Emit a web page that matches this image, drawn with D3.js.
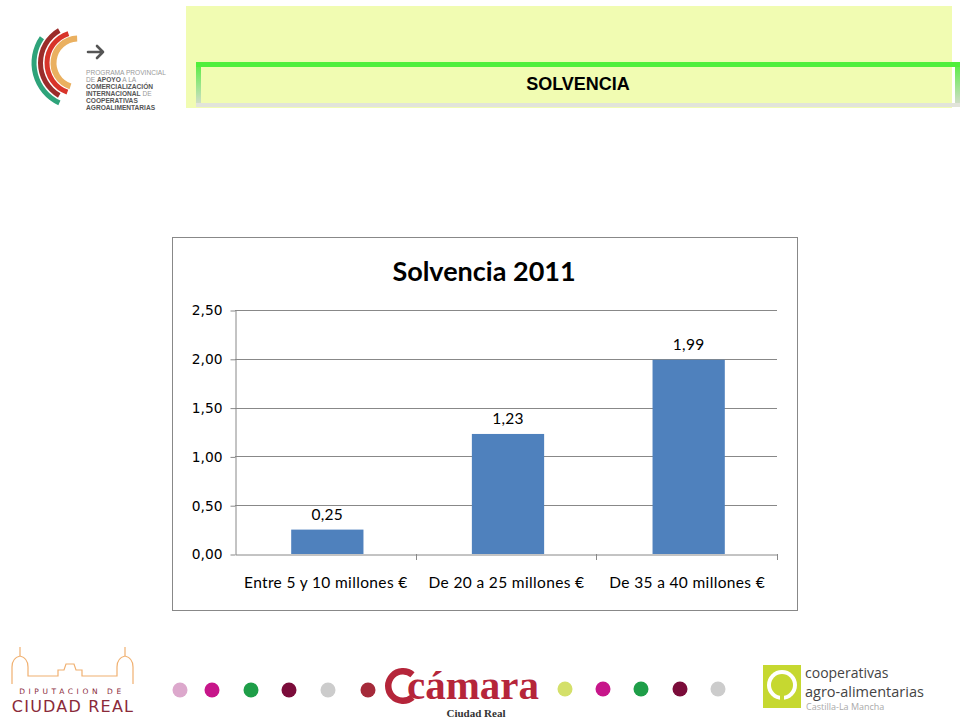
<!DOCTYPE html>
<html>
<head>
<meta charset="utf-8">
<script src="https://cdn.jsdelivr.net/npm/d3@7"></script>
<style>
html,body{margin:0;padding:0;background:#fff;}
svg{display:block;}
</style>
</head>
<body>
<svg id="chart" width="960" height="720"></svg>
<script>
const categories = ["Entre 5 y 10 millones €", "De 20 a 25 millones €", "De 35 a 40 millones €"];
const values = [0.25, 1.23, 1.99];
const yTicks = [0, 0.5, 1.0, 1.5, 2.0, 2.5];
const chartTitle = "Solvencia 2011";
const slideTitle = "SOLVENCIA";
const dotsLeft = ["#dca8cc", "#c7168a", "#1e9e48", "#7b0c3a", "#cccccc", "#a52a3a"];
const dotsRight = ["#d4e06a", "#c7168a", "#1e9e48", "#7b0c3a", "#cccccc"];

const svg = d3.select("#chart");
const defs = svg.append("defs");

// ---------- Header ----------
svg.append("rect").attr("x",186).attr("y",6).attr("width",766).attr("height",102).attr("fill","#f1fcb2");
const lg = defs.append("linearGradient").attr("id","sideGrad").attr("x1",0).attr("y1",0).attr("x2",0).attr("y2",1);
lg.append("stop").attr("offset","0%").attr("stop-color","#52ee3c");
lg.append("stop").attr("offset","100%").attr("stop-color","#dcdcd4");
svg.append("rect").attr("x",196).attr("y",62).attr("width",5).attr("height",45).attr("fill","url(#sideGrad)");
svg.append("rect").attr("x",955).attr("y",62).attr("width",5).attr("height",45).attr("fill","url(#sideGrad)");
svg.append("rect").attr("x",196).attr("y",103).attr("width",764).attr("height",4).attr("fill","#e2e4da");
svg.append("rect").attr("x",196).attr("y",62).attr("width",764).attr("height",5).attr("fill","#50ef3c");
svg.append("text").attr("x",578).attr("y",90).attr("text-anchor","middle")
  .attr("font-family","Liberation Sans, Arial, sans-serif").attr("font-weight","bold").attr("font-size",18)
  .attr("fill","#000").text(slideTitle);

// ---------- Top-left logo ----------
const logo = svg.append("g");
const arcGen = d3.arc();
const arcs = [
  {r:44, w:5, c:"#2ea37a", a0:-55, a1:-155},
  {r:37.5, w:5, c:"#9b2c2a", a0:-30, a1:-150},
  {r:31, w:5, c:"#d8342a", a0:-18, a1:-160},
  {r:24.5, w:6, c:"#eab060", a0:-2, a1:-162}
];
arcs.forEach(a=>{
  logo.append("path")
    .attr("transform","translate(78,63)")
    .attr("d", arcGen({innerRadius:a.r-a.w/2, outerRadius:a.r+a.w/2,
      startAngle:a.a1*Math.PI/180, endAngle:a.a0*Math.PI/180}))
    .attr("fill",a.c);
});
logo.append("path").attr("d","M88,52 L103,52 M97,46 L103,52 L97,58")
  .attr("fill","none").attr("stroke","#555").attr("stroke-width",2.6).attr("stroke-linecap","round").attr("stroke-linejoin","round");
const lt = [
  [{t:"PROGRAMA PROVINCIAL",b:false}],
  [{t:"DE ",b:false},{t:"APOYO",b:true},{t:" A LA",b:false}],
  [{t:"COMERCIALIZACIÓN",b:true}],
  [{t:"INTERNACIONAL",b:true},{t:" DE",b:false}],
  [{t:"COOPERATIVAS",b:true}],
  [{t:"AGROALIMENTARIAS",b:true}]
];
lt.forEach((line,i)=>{
  const t = logo.append("text").attr("x",86).attr("y",75+i*6.9)
    .attr("font-family","Liberation Sans Narrow, Liberation Sans, sans-serif").attr("font-size",6.6);
  line.forEach(s=>t.append("tspan").attr("font-weight",s.b?"bold":"normal").attr("fill",s.b?"#555":"#9a9a9a").text(s.t));
});

// ---------- Chart ----------
svg.append("rect").attr("x",172.5).attr("y",237.5).attr("width",625).attr("height",373)
  .attr("fill","#fff").attr("stroke","#888").attr("stroke-width",1);

svg.append("text").attr("x",484).attr("y",281).attr("text-anchor","middle")
  .attr("font-family","Lato, Carlito, Calibri, sans-serif").attr("font-weight","bold").attr("font-size",27)
  .attr("fill","#000").text(chartTitle);

const plot = {left:235, right:777, top:310, bottom:554};
const x = d3.scaleBand().domain(categories).range([plot.left, plot.right]).padding(0);
const y = d3.scaleLinear().domain([0, 2.5]).range([plot.bottom, plot.top]);
const fmt = v => d3.format(".2f")(v).replace(".", ",");

// gridlines
svg.append("g").selectAll("line").data(yTicks.filter(t=>t>0)).join("line")
  .attr("x1",plot.left).attr("x2",plot.right)
  .attr("y1",d=>Math.round(y(d))+0.5).attr("y2",d=>Math.round(y(d))+0.5)
  .attr("stroke","#888").attr("stroke-width",1);

// y axis
const yAxis = svg.append("g").attr("transform",`translate(${plot.left+0.5},0.5)`)
  .call(d3.axisLeft(y).tickValues(yTicks).tickFormat(fmt).tickSize(5).tickSizeOuter(0));
yAxis.select(".domain").attr("stroke","#888");
yAxis.selectAll(".tick line").attr("stroke","#888");
yAxis.selectAll(".tick text").attr("font-family","DejaVu Sans, Verdana, sans-serif").attr("font-size",13.8)
  .attr("fill","#000").attr("x",-13);

// bars
const barW = x.bandwidth()*0.4;
svg.append("g").selectAll("rect").data(values).join("rect")
  .attr("x",(d,i)=>x(categories[i]) + x.bandwidth()/2 - barW/2 + 2)
  .attr("y",d=>y(d))
  .attr("width",barW)
  .attr("height",d=>plot.bottom - y(d))
  .attr("fill","#4f81bd");

// x axis
const xAxis = svg.append("g").attr("transform",`translate(0.5,${plot.bottom+0.5})`)
  .call(d3.axisBottom(x).tickSize(0).tickSizeOuter(0));
xAxis.select(".domain").attr("stroke","#888");
xAxis.selectAll(".tick text").attr("font-family","Lato, Carlito, Calibri, sans-serif").attr("font-size",15.5)
  .attr("letter-spacing",0.35).attr("fill","#000").attr("dy",0).attr("y",33);
// category separator ticks
svg.append("g").selectAll("line").data(categories.slice(1).concat([null])).join("line")
  .attr("x1",(d,i)=> i<categories.length-1 ? Math.round(x(d))+0.5 : plot.right+0.5)
  .attr("x2",(d,i)=> i<categories.length-1 ? Math.round(x(d))+0.5 : plot.right+0.5)
  .attr("y1",plot.bottom).attr("y2",plot.bottom+6).attr("stroke","#888");

// data labels
svg.append("g").selectAll("text").data(values).join("text")
  .attr("x",(d,i)=>x(categories[i]) + x.bandwidth()/2 + 2)
  .attr("y",d=>y(d)-10)
  .attr("text-anchor","middle")
  .attr("font-family","Lato, Carlito, Calibri, sans-serif").attr("font-size",15.5).attr("letter-spacing",0.3).attr("fill","#000")
  .text(fmt);

// ---------- Footer ----------
const foot = svg.append("g");
// Diputación logo
const bld = "M12,684 L12,667 Q12,658 20,656 L20,647 M20,656 Q28,658 28,667 L28,676 L58,676 L58,670 L64,670 L66,664 L74,664 L76,670 L82,670 L82,676 L117,676 L117,667 Q117,658 125,656 L125,647 M125,656 Q133,658 133,667 L133,684";
foot.append("path").attr("d",bld).attr("fill","none").attr("stroke","#f0b070").attr("stroke-width",1.2);
foot.append("text").attr("x",72).attr("y",694).attr("text-anchor","middle")
  .attr("font-family","DejaVu Sans, sans-serif").attr("font-size",7.5).attr("letter-spacing",3.6)
  .attr("fill","#8a2a3a").text("DIPUTACION DE");
foot.append("text").attr("x",73).attr("y",712).attr("text-anchor","middle")
  .attr("font-family","DejaVu Sans, sans-serif").attr("font-size",16).attr("letter-spacing",1.2)
  .attr("fill","#8a2a3a").text("CIUDAD REAL");

// dots
const dxL = [180, 212, 251, 289, 328, 368];
foot.append("g").selectAll("circle").data(dotsLeft).join("circle")
  .attr("cx",(d,i)=>dxL[i]).attr("cy",690).attr("r",7.5).attr("fill",d=>d);
const dxR = [565, 603, 641, 680, 718];
foot.append("g").selectAll("circle").data(dotsRight).join("circle")
  .attr("cx",(d,i)=>dxR[i]).attr("cy",689).attr("r",7.5).attr("fill",d=>d);

// Cámara logo: big C as a shape (open to the right), then the word
foot.append("path").attr("transform","translate(403,686)")
  .attr("d", arcGen({innerRadius:11.5, outerRadius:18, startAngle:140*Math.PI/180, endAngle:400*Math.PI/180}))
  .attr("fill","#b5253a");
foot.append("text").attr("x",407).attr("y",699)
  .attr("font-family","Liberation Serif, serif").attr("font-size",41).attr("font-weight","bold").attr("fill","#b5253a").text("cámara");
foot.append("text").attr("x",476).attr("y",717).attr("text-anchor","middle")
  .attr("font-family","Liberation Serif, serif").attr("font-size",11).attr("font-weight","bold").attr("fill","#333").text("Ciudad Real");

// Cooperativas logo
foot.append("rect").attr("x",763).attr("y",665).attr("width",38).attr("height",43).attr("fill","#c6d830");
foot.append("circle").attr("cx",782).attr("cy",685).attr("r",15).attr("fill","#fff");
foot.append("circle").attr("cx",782).attr("cy",685).attr("r",11).attr("fill","#c6d830");
foot.append("rect").attr("x",780).attr("y",692).attr("width",4).attr("height",11).attr("fill","#c6d830");
foot.append("text").attr("x",805).attr("y",678).attr("font-family","Open Sans, DejaVu Sans, sans-serif")
  .attr("font-size",14).attr("fill","#444").text("cooperativas");
foot.append("text").attr("x",805).attr("y",697).attr("font-family","Open Sans, DejaVu Sans, sans-serif")
  .attr("font-size",14.5).attr("fill","#444").text("agro-alimentarias");
foot.append("text").attr("x",806).attr("y",710).attr("font-family","Open Sans, DejaVu Sans, sans-serif")
  .attr("font-size",9).attr("fill","#aaa").text("Castilla-La Mancha");
</script>
</body>
</html>
